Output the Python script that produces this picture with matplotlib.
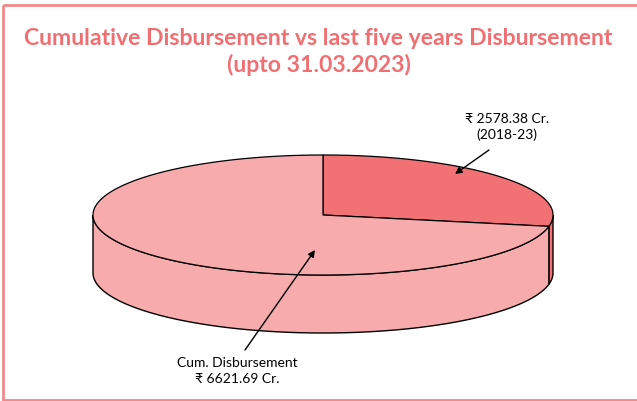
import numpy as np
import matplotlib.pyplot as plt
from matplotlib.patches import Polygon, Rectangle

# data
labels = ['₹ 2578.38 Cr.\n(2018-23)', 'Cum. Disbursement\n₹ 6621.69 Cr.']
values = [2578.38, 6621.69]
colors = ['#F27174', '#F7ABAD']
title = 'Cumulative Disbursement vs last five years Disbursement\n(upto 31.03.2023)'

fam = ['Lato', 'Noto Sans', 'DejaVu Sans']

fig = plt.figure(figsize=(6.37, 4.01), dpi=100)
ax = fig.add_axes([0, 0, 1, 1])
ax.set_xlim(0, 637)
ax.set_ylim(401, 0)
ax.axis('off')

# outer frame
ax.add_patch(Rectangle((3, 4.5), 660, 395, fill=False, edgecolor='#F28A8C', lw=2))

# pie geometry (pixel space)
cx, cy, a, b, depth = 323, 215, 230, 60, 58


def rim(t, dy=0):
    t = np.radians(t)
    return np.column_stack([cx + a * np.cos(t), cy - b * np.sin(t) + dy])


# wedge angles, starting at 12 o'clock going clockwise
frac = np.array(values) / sum(values)
start = 90.0
angles = []
for f in frac:
    angles.append((start - 360 * f, start))
    start -= 360 * f

# side walls (only the front half, 180..360)
for (t0, t1), c in zip(angles, colors):
    lo, hi = t0 % 360, t1 % 360
    if hi <= lo:
        hi += 360
    for k in (-360, 0, 360):
        s0, s1 = max(lo + k, 180), min(hi + k, 360)
        if s1 > s0:
            ts = np.linspace(s0, s1, 120)
            pts = np.vstack([rim(ts), rim(ts[::-1], depth)])
            ax.add_patch(Polygon(pts, closed=True, facecolor=c, edgecolor='black', lw=1))

# top faces
for (t0, t1), c in zip(angles, colors):
    ts = np.linspace(t0, t1, 200)
    pts = np.vstack([[cx, cy], rim(ts)])
    ax.add_patch(Polygon(pts, closed=True, facecolor=c, edgecolor='black', lw=0.9))

# title
ax.text(318.5, 52, title, ha='center', va='center', color='#F06F72',
        fontsize=16.6, fontweight='bold', family=fam, linespacing=1.3)

# labels
ax.text(507, 127, labels[0], ha='center', va='center', fontsize=10,
        family=fam, linespacing=1.4)
ax.text(237.5, 371, labels[1], ha='center', va='center', fontsize=10,
        family=fam, linespacing=1.4)

# leader arrows
arrow = dict(arrowstyle='-|>', color='black', lw=1, shrinkA=0, shrinkB=0,
             mutation_scale=10)
ax.annotate('', xy=(455, 174), xytext=(489, 150), arrowprops=arrow)
ax.annotate('', xy=(315, 250), xytext=(245, 350), arrowprops=arrow)

fig.savefig('out.png', dpi=100)
